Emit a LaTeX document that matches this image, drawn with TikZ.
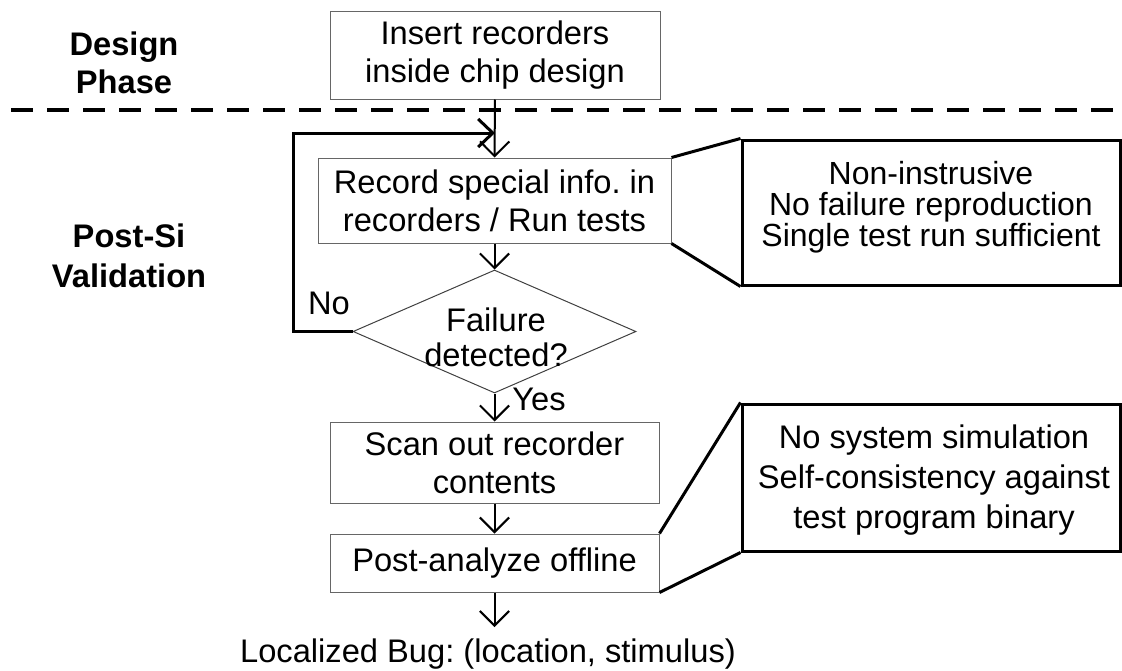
\documentclass[tikz,border=0pt]{standalone}
\usepackage{fontspec}
\setmainfont{Liberation Sans}
\usetikzlibrary{arrows.meta,shapes.geometric}

\begin{document}
\frenchspacing
\begin{tikzpicture}[x=0.75pt,y=-0.75pt,
  stepbox/.style={draw=black!60,line width=0.75pt,inner sep=0pt,align=center,
    font=\fontsize{24.5}{28.5}\selectfont},
  notebox/.style={draw=black,line width=2.25pt,inner sep=0pt,
    minimum width=283.5pt},
  notetext/.style={align=center,inner sep=0pt},
  phase/.style={align=center,inner sep=0pt,font=\bfseries},
  flow/.style={line width=1.5pt,-{Straight Barb[length=11pt,width=22pt]}},
  loopback/.style={line width=2.25pt,-{Straight Barb[length=11pt,width=21pt]}},
  callout/.style={line width=2.25pt},
  divider/.style={line width=2.5pt,dash pattern=on 16.5pt off 10.5pt},
  plain/.style={inner sep=0pt,font=\fontsize{24.5}{28.5}\selectfont}]

\useasboundingbox (0,0) rectangle (1122,671);

% phase separator
\draw[divider] (11,110) -- (1122,110);

% phase labels
\node[phase,font=\bfseries\fontsize{24.5}{28.5}\selectfont] (design) at (124,62.5) {Design\\Phase};
\node[phase,font=\bfseries\fontsize{24.5}{30}\selectfont] (postsi) at (129,255.5) {Post-Si\\Validation};

% flow steps
\node[stepbox,minimum width=247.5pt,minimum height=66pt] (insert) at (495,55)
  {Insert recorders\\inside chip design};
\node[stepbox,minimum width=264.75pt,minimum height=63.75pt] (record) at (494.5,200.5)
  {Record special info. in\\recorders / Run tests};
\node[draw=black!75,line width=0.75pt,shape=diamond,inner sep=0pt,
  minimum width=212.25pt,minimum height=92.25pt] (check) at (494.5,331.5) {};
\node[notetext,font=\fontsize{24.5}{26}\selectfont] (checktext) at (496,337)
  {Failure\\detected?};
\node[stepbox,minimum width=246.75pt,minimum height=60.75pt] (scan) at (494.5,462.5)
  {Scan out recorder\\contents};
\node[stepbox,minimum width=246.75pt,minimum height=43.5pt] (post) at (494.5,563)
  {Post-analyze offline};
\node[plain,anchor=base] (bug) at (488,662) {Localized Bug: (location, stimulus)};

% branch labels
\node[plain,anchor=base] (no) at (329,314) {No};
\node[plain,anchor=base] (yes) at (539,410) {Yes};

% callouts
\node[notebox,minimum height=108.75pt] (note1) at (931,212.5) {};
\node[notetext,font=\fontsize{24}{23.25}\selectfont] (note1text) at (931,207)
  {Non-instrusive\\No failure reproduction\\Single test run sufficient};
\node[notebox,minimum height=110.25pt] (note2) at (931,477.5) {};
\node[notetext,font=\fontsize{24.5}{30}\selectfont] (note2text) at (934,480)
  {No system simulation\\Self-consistency against\\test program binary};

\draw[callout] (record.north east) -- (note1.north west);
\draw[callout] (record.south east) -- (note1.south west);
\draw[callout] (post.north east) -- (note2.north west);
\draw[callout] (post.south east) -- (note2.south west);

% connectors
\coordinate (merge) at (495,133);
\coordinate (bugtip) at (494.5,627);
\draw[flow] (insert.south) -- (record.north);
\draw[flow] (record.south) -- (check.north);
\draw[flow] (check.south) -- (scan.north);
\draw[flow] (scan.south) -- (post.north);
\draw[flow] (post.south) -- (bugtip);
\draw[loopback] (check.west) -- ++(-59,0) |- (merge);

\end{tikzpicture}
\end{document}
